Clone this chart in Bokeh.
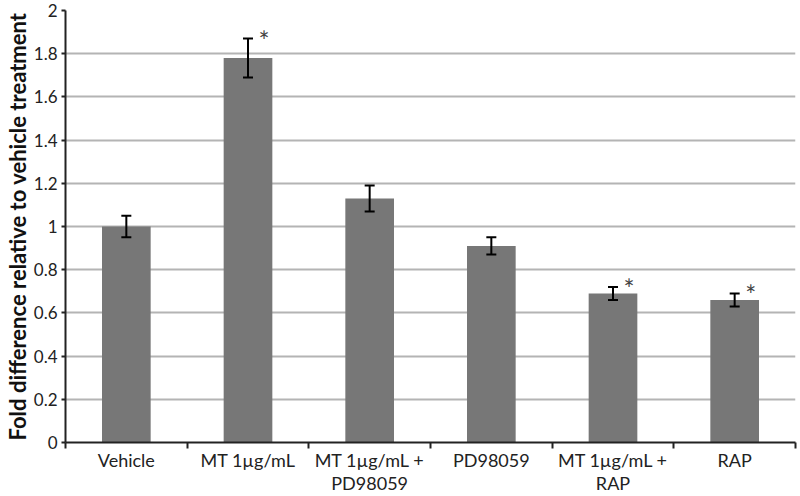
from bokeh.plotting import figure
from bokeh.models import ColumnDataSource, FixedTicker, Range1d, Whisker, TeeHead
from bokeh.core.properties import value
from bokeh.embed import file_html
from bokeh.resources import INLINE

categories = ["Vehicle", "MT 1µg/mL", "MT 1µg/mL +\nPD98059", "PD98059", "MT 1µg/mL +\nRAP", "RAP"]
fold_change = [1.00, 1.78, 1.13, 0.91, 0.69, 0.66]
error = [0.05, 0.09, 0.06, 0.04, 0.03, 0.03]
significant = [False, True, False, False, True, True]
y_ticks = [0, 0.2, 0.4, 0.6, 0.8, 1.0, 1.2, 1.4, 1.6, 1.8, 2.0]
y_tick_labels = ["0", "0.2", "0.4", "0.6", "0.8", "1", "1.2", "1.4", "1.6", "1.8", "2"]

n = len(categories)
centers = [i + 0.5 for i in range(n)]
bounds = [float(i) for i in range(n + 1)]

src = ColumnDataSource(dict(
    x=centers,
    top=fold_change,
    upper=[v + e for v, e in zip(fold_change, error)],
    lower=[v - e for v, e in zip(fold_change, error)],
))
star_src = ColumnDataSource(dict(
    x=[c for c, s in zip(centers, significant) if s],
    y=[v + e for v, e, s in zip(fold_change, error, significant) if s],
    t=["*" for s in significant if s],
))

FONT = "Lato"

p = figure(
    width=800, height=496,
    x_range=Range1d(0, n), y_range=Range1d(0, 2),
    output_backend="svg", toolbar_location=None,
    min_border_left=40, min_border_top=10, min_border_bottom=40, min_border_right=5,
)
p.outline_line_color = None
p.background_fill_color = "white"

p.vbar(x="x", top="top", width=0.4, source=src, fill_color="#777777", line_color=None)

p.add_layout(Whisker(source=src, base="x", upper="upper", lower="lower",
                     line_color="black", line_width=2, level="overlay",
                     upper_head=TeeHead(size=10, line_color="black", line_width=2),
                     lower_head=TeeHead(size=10, line_color="black", line_width=2)))

p.text(x="x", y="y", text="t", source=star_src, x_offset=16, y_offset=2,
       text_font=value(FONT), text_font_size="26px", text_color="#444444",
       text_align="center", text_baseline="alphabetic")

# x axis
xa = p.xaxis[0]
xa.ticker = FixedTicker(ticks=centers, minor_ticks=bounds)
xa.major_label_overrides = {c: lab for c, lab in zip(centers, categories)}
xa.major_tick_in = 0
xa.major_tick_out = 0
xa.minor_tick_in = 0
xa.minor_tick_out = 6
xa.minor_tick_line_color = "#222222"
xa.minor_tick_line_width = 2
xa.axis_line_color = "#222222"
xa.axis_line_width = 2
xa.major_label_standoff = 0
xa.major_label_text_font = FONT
xa.major_label_text_font_size = "18px"
xa.major_label_text_color = "#222222"
xa.major_label_text_line_height = 1.05

# y axis
ya = p.yaxis[0]
ya.ticker = FixedTicker(ticks=y_ticks)
ya.major_label_overrides = {t: l for t, l in zip(y_ticks, y_tick_labels)}
ya.minor_tick_line_color = None
ya.major_tick_in = 0
ya.major_tick_out = 4
ya.major_tick_line_color = "#222222"
ya.major_tick_line_width = 2
ya.axis_line_color = "#222222"
ya.axis_line_width = 2
ya.major_label_standoff = 4
ya.major_label_text_font = FONT
ya.major_label_text_font_size = "17px"
ya.major_label_text_color = "#222222"
ya.axis_label = "Fold difference relative to vehicle treatment"
ya.axis_label_text_font = FONT
ya.axis_label_text_font_style = "bold"
ya.axis_label_text_font_size = "22px"
ya.axis_label_text_color = "#111111"
ya.axis_label_standoff = 0

p.xgrid.grid_line_color = None
p.ygrid.grid_line_color = "#b4b4b4"
p.ygrid.grid_line_width = 2

open("out.html", "w").write(file_html(p, INLINE))
